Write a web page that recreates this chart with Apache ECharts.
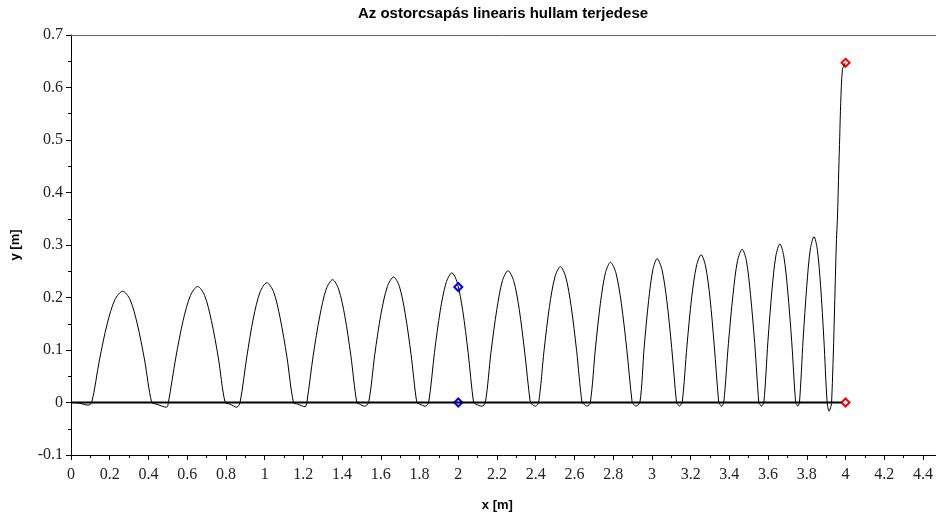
<!DOCTYPE html>
<html>
<head>
<meta charset="utf-8">
<script src="https://cdn.jsdelivr.net/npm/echarts@6/dist/echarts.min.js"></script>
<style>
  html, body { margin: 0; padding: 0; background: #fff; }
  #chart { width: 936px; height: 517px; }
</style>
</head>
<body>
<div id="chart"></div>
<script>
// snapshot of the whip wave: [x (m), y (m)]
var wave = [
  [0, 0], [0.04, -0.001], [0.088, -0.005], [0.107, 0],
  [0.147, 0.081], [0.187, 0.150], [0.227, 0.196], [0.267, 0.212], [0.305, 0.196], [0.342, 0.150], [0.380, 0.081], [0.417, 0],
  [0.44, -0.003], [0.494, -0.009], [0.503, 0],
  [0.541, 0.085], [0.579, 0.156], [0.617, 0.204], [0.654, 0.221], [0.690, 0.204], [0.725, 0.156], [0.761, 0.085], [0.796, 0],
  [0.82, -0.003], [0.856, -0.009], [0.873, 0],
  [0.908, 0.087], [0.942, 0.161], [0.977, 0.211], [1.011, 0.228], [1.046, 0.211], [1.080, 0.161], [1.115, 0.087], [1.149, 0],
  [1.17, -0.003], [1.209, -0.008], [1.218, 0],
  [1.251, 0.090], [1.285, 0.165], [1.318, 0.216], [1.351, 0.234], [1.382, 0.216], [1.414, 0.165], [1.445, 0.090], [1.476, 0],
  [1.49, -0.003], [1.515, -0.007], [1.537, 0],
  [1.569, 0.092], [1.601, 0.169], [1.634, 0.221], [1.666, 0.239], [1.696, 0.221], [1.726, 0.169], [1.756, 0.092], [1.786, 0],
  [1.80, -0.003], [1.83, -0.007], [1.847, 0],
  [1.877, 0.095], [1.907, 0.175], [1.937, 0.228], [1.967, 0.247], [1.995, 0.228], [2.023, 0.175], [2.051, 0.095], [2.079, 0],
  [2.09, -0.003], [2.122, -0.007], [2.14, 0],
  [2.169, 0.096], [2.199, 0.177], [2.228, 0.232], [2.257, 0.251], [2.286, 0.232], [2.315, 0.177], [2.343, 0.096], [2.372, 0],
  [2.38, -0.003], [2.398, -0.007], [2.415, 0],
  [2.443, 0.099], [2.471, 0.183], [2.499, 0.239], [2.527, 0.259], [2.555, 0.239], [2.583, 0.183], [2.611, 0.099], [2.639, 0],
  [2.65, -0.003], [2.665, -0.007], [2.682, 0],
  [2.708, 0.102], [2.734, 0.189], [2.760, 0.247], [2.786, 0.267], [2.814, 0.247], [2.842, 0.189], [2.870, 0.102], [2.898, 0],
  [2.905, -0.003], [2.915, -0.007], [2.938, 0],
  [2.960, 0.105], [2.983, 0.194], [3.005, 0.253], [3.027, 0.274], [3.052, 0.253], [3.077, 0.194], [3.102, 0.105], [3.127, 0],
  [3.133, -0.003], [3.14, -0.007], [3.156, 0],
  [3.181, 0.108], [3.205, 0.199], [3.230, 0.260], [3.254, 0.2815], [3.277, 0.260], [3.300, 0.199], [3.322, 0.108], [3.345, 0],
  [3.35, -0.003], [3.36, -0.007], [3.371, 0],
  [3.395, 0.112], [3.419, 0.206], [3.442, 0.270], [3.466, 0.292], [3.488, 0.270], [3.509, 0.206], [3.531, 0.112], [3.552, 0],
  [3.557, -0.003], [3.565, -0.007], [3.578, 0],
  [3.599, 0.116], [3.620, 0.214], [3.640, 0.279], [3.661, 0.302], [3.681, 0.279], [3.701, 0.214], [3.722, 0.116], [3.742, 0],
  [3.747, -0.003], [3.753, -0.007], [3.762, 0],
  [3.781, 0.121], [3.800, 0.223], [3.818, 0.292], [3.837, 0.316], [3.854, 0.292], [3.871, 0.223], [3.888, 0.121], [3.905, 0],
  [3.915, -0.0165], [3.928, 0], [3.953, 0.31], [3.958, 0.349], [3.965, 0.443], [3.970, 0.507], [3.975, 0.570], [3.984, 0.634], [3.998, 0.647]
]

// string at rest
var restLine = [[0, 0], [3.98, 0]]

// tracked points
var bluePoints = [[2, 0.22], [2, 0]]
var redPoints = [[4, 0.647], [4, 0]]

var xMin = 0, xMax = 4.466, xStep = 0.2
var yMin = -0.1, yMax = 0.7, yStep = 0.1

var chart = echarts.init(document.getElementById('chart'))

var tickFont = {
  fontFamily: 'Liberation Serif',
  fontSize: 16,
  color: '#222'
}
var nameFont = {
  fontFamily: 'Liberation Sans',
  fontSize: 13,
  fontWeight: 'bold',
  color: '#000'
}

var option = {
  animation: false,
  backgroundColor: '#fff',
  title: {
    text: 'Az ostorcsapás linearis hullam terjedese',
    left: 498,
    textAlign: 'center',
    top: 1,
    textStyle: {
      fontFamily: 'Liberation Sans',
      fontSize: 15,
      fontWeight: 'bold',
      color: '#000'
    }
  },
  grid: {
    left: 71,
    top: 35,
    right: 0,
    bottom: 61.5,
    containLabel: false
  },
  xAxis: [
    {
      type: 'value',
      min: xMin,
      max: xMax,
      interval: xStep,
      name: 'x [m]',
      nameLocation: 'middle',
      nameGap: 44,
      nameTextStyle: Object.assign({ padding: [0, 12, 0, 0] }, nameFont),
      axisLine: { onZero: false, lineStyle: { color: '#000', width: 1 } },
      axisTick: { length: 5, lineStyle: { color: '#000' } },
      minorTick: { show: true, splitNumber: 2, length: 3, lineStyle: { color: '#000' } },
      axisLabel: Object.assign({ margin: 12, showMaxLabel: false }, tickFont),
      splitLine: { show: false }
    },
    {
      type: 'value',
      position: 'top',
      min: xMin,
      max: xMax,
      axisLine: { show: true, onZero: false, lineStyle: { color: '#666', width: 1 } },
      axisTick: { show: false },
      axisLabel: { show: false },
      splitLine: { show: false }
    }
  ],
  yAxis: {
    type: 'value',
    min: yMin,
    max: yMax,
    interval: yStep,
    name: 'y [m]',
    nameLocation: 'middle',
    nameGap: 49,
    nameTextStyle: nameFont,
    axisLine: { show: true, onZero: false, lineStyle: { color: '#000', width: 1 } },
    axisTick: { show: true, length: 5, lineStyle: { color: '#000' } },
    minorTick: { show: true, splitNumber: 2, length: 3, lineStyle: { color: '#000' } },
    axisLabel: Object.assign({ margin: 8 }, tickFont),
    splitLine: { show: false }
  },
  series: [
    {
      type: 'line',
      data: restLine,
      showSymbol: false,
      lineStyle: { color: '#000', width: 1.8 },
      silent: true
    },
    {
      type: 'line',
      data: wave,
      showSymbol: false,
      smooth: 0.3,
      lineStyle: { color: '#000', width: 1 },
      silent: true
    },
    {
      type: 'scatter',
      data: bluePoints,
      symbol: 'diamond',
      symbolSize: 8,
      itemStyle: { color: '#fff', borderColor: '#0000ff', borderWidth: 2, opacity: 1 }
    },
    {
      type: 'scatter',
      data: redPoints,
      symbol: 'diamond',
      symbolSize: 8,
      itemStyle: { color: '#fff', borderColor: '#ff0000', borderWidth: 2, opacity: 1 }
    }
  ]
}

chart.setOption(option)
window.addEventListener('resize', function () {
  chart.resize()
})
</script>
</body>
</html>
